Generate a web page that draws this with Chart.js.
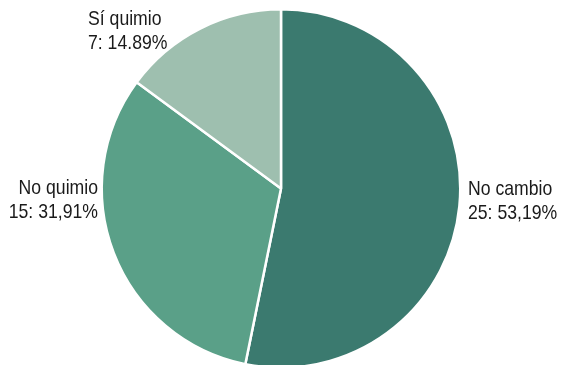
<!DOCTYPE html>
<html>
<head>
<meta charset="utf-8">
<script src="https://cdn.jsdelivr.net/npm/chart.js@4"></script>
<style>
  html, body { margin: 0; padding: 0; background: #fff; overflow: hidden; }
  #wrap { width: 561px; height: 372px; }
</style>
</head>
<body>
<div id="wrap"><canvas id="pie" width="561" height="372"></canvas></div>
<script>
const categories = ["No cambio", "No quimio", "Sí quimio"];
const counts = [25, 15, 7];
const pctLabels = ["53,19%", "31,91%", "14.89%"];
const colors = ["#3b7a6f", "#5aa088", "#9ebfaf"];

// label anchors: [x, y of first line, align]
const labelPos = [
  [468, 189, "left"],
  [98, 188, "right"],
  [88, 19, "left"]
];

// the original uses a condensed face; squeeze Liberation Sans horizontally
const squeeze = 0.84;

const outsideLabels = {
  id: "outsideLabels",
  afterDraw(chart) {
    const ctx = chart.ctx;
    ctx.save();
    ctx.fillStyle = "#1a1a1a";
    ctx.font = "21px 'Liberation Sans', Arial, sans-serif";
    ctx.textBaseline = "middle";
    categories.forEach((c, i) => {
      const [x, y, align] = labelPos[i];
      ctx.save();
      ctx.translate(x, 0);
      ctx.scale(squeeze, 1);
      ctx.textAlign = align;
      ctx.fillText(c, 0, y);
      ctx.fillText(counts[i] + ": " + pctLabels[i], 0, y + 24);
      ctx.restore();
    });
    ctx.restore();
  }
};

new Chart(document.getElementById("pie"), {
  type: "pie",
  data: {
    labels: categories,
    datasets: [{
      data: counts,
      backgroundColor: colors,
      borderColor: "#ffffff",
      borderWidth: 2.5
    }]
  },
  options: {
    responsive: false,
    animation: false,
    layout: { padding: { top: 8, bottom: 3, left: 1, right: 0 } },
    plugins: {
      legend: { display: false },
      tooltip: { enabled: false }
    }
  },
  plugins: [outsideLabels]
});
</script>
</body>
</html>
